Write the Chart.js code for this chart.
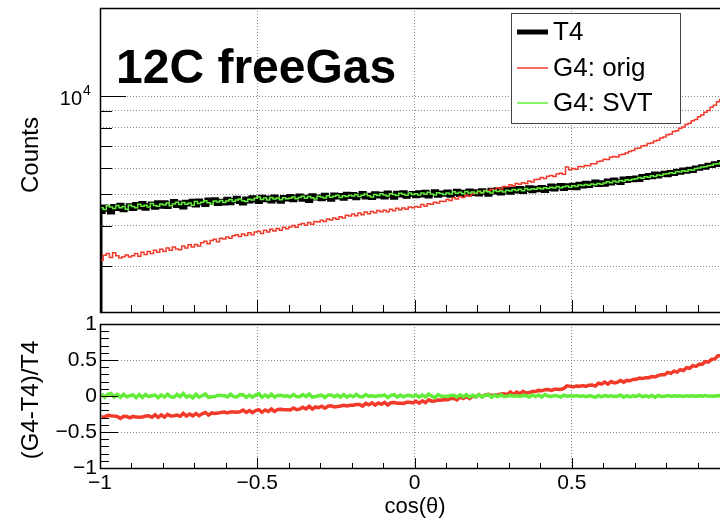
<!DOCTYPE html>
<html><head><meta charset="utf-8">
<script src="https://cdn.jsdelivr.net/npm/chart.js@4/dist/chart.umd.min.js"></script>
<style>
html,body{margin:0;padding:0;background:#fff;overflow:hidden;width:720px;height:519px;}
#top{position:absolute;left:0;top:0;}
#bot{position:absolute;left:0;top:312px;}
</style></head><body>
<canvas id="top" width="740" height="320"></canvas>
<canvas id="bot" width="740" height="207"></canvas>
<script>
// ---- data (200 bins of cos(theta), width 0.01, from -1 to 1) ----
const binLow = -1;
const binWidth = 0.01;
const seriesNames = ['T4', 'G4: orig', 'G4: SVT'];
const t4 = [
4420,4560,4490,4400,4580,4510,4620,4470,4540,4600,
4510,4640,4560,4680,4520,4600,4660,4550,4700,4590,
4700,4580,4650,4740,4610,4690,4560,4720,4660,4750,
4630,4760,4700,4640,4790,4710,4800,4680,4750,4690,
4820,4700,4780,4850,4740,4690,4830,4760,4870,4790,
4740,4890,4800,4860,4760,4900,4820,4750,4880,4830,
4910,4800,4870,4930,4820,4890,4780,4940,4860,4900,
4840,4960,4880,4820,4970,4900,4950,4850,4990,4910,
4980,4870,4950,5020,4900,4960,4880,5010,4930,4990,
4900,5040,4960,4890,5030,4970,5050,4920,4990,5020,
4940,5050,4970,5060,4930,5010,5080,4960,5040,4990,
5070,4960,5030,5100,4980,5060,5000,5110,5020,5080,
5000,5120,5060,4990,5140,5070,5150,5040,5110,5160,
5060,5180,5110,5200,5090,5170,5230,5120,5210,5150,
5240,5130,5200,5290,5180,5260,5310,5200,5300,5240,
5320,5230,5360,5290,5400,5310,5380,5440,5350,5420,
5360,5480,5410,5520,5460,5430,5560,5500,5580,5530,
5600,5540,5660,5620,5700,5650,5760,5680,5740,5790,
5730,5820,5780,5880,5830,5930,5870,5960,5910,6010,
6000,6060,6040,6130,6120,6190,6160,6250,6240,6310];
const g4orig = [
3130,3240,3280,3190,3300,3230,3180,3210,3250,3200,
3230,3280,3220,3310,3260,3330,3280,3360,3310,3380,
3330,3410,3360,3440,3390,3370,3460,3410,3490,3440,
3500,3460,3540,3580,3520,3600,3630,3570,3660,3640,
3690,3660,3720,3750,3700,3770,3730,3800,3750,3820,
3840,3780,3870,3820,3900,3850,3920,3870,3950,3910,
3960,4000,3950,4030,4060,4010,4090,4040,4120,4100,
4150,4120,4190,4160,4220,4180,4260,4220,4300,4280,
4340,4290,4370,4320,4400,4350,4420,4380,4450,4410,
4460,4410,4490,4440,4520,4470,4530,4490,4560,4540,
4580,4550,4640,4590,4670,4650,4720,4690,4750,4740,
4810,4780,4870,4830,4910,4880,4970,4920,5010,5020,
5090,5050,5130,5110,5170,5140,5230,5180,5270,5260,
5340,5300,5390,5360,5420,5390,5480,5440,5540,5550,
5620,5580,5670,5700,5660,5760,5790,5750,6050,5940,
5990,5960,6080,6060,6120,6110,6200,6190,6300,6320,
6400,6380,6490,6520,6500,6600,6630,6690,6760,6800,
6900,6920,7030,7050,7150,7180,7280,7310,7430,7490,
7600,7650,7780,7830,7960,8030,8180,8250,8400,8480,
8640,8740,8920,9030,9240,9380,9600,9760,10010,10180];
const g4svt = [
4540,4480,4600,4560,4510,4610,4540,4580,4490,4620,
4580,4540,4650,4590,4620,4560,4680,4610,4590,4660,
4630,4690,4600,4660,4720,4640,4710,4650,4690,4620,
4740,4680,4720,4770,4700,4660,4760,4730,4780,4710,
4760,4810,4740,4790,4830,4770,4740,4820,4790,4850,
4900,4810,4860,4790,4880,4830,4860,4800,4870,4840,
4850,4900,4840,4880,4920,4850,4910,4870,4830,4920,
4900,4860,4940,4890,4920,4960,4880,4940,4910,4960,
4930,4980,4910,4960,5000,4940,4900,4980,4950,5010,
4970,4930,5010,4980,4950,5030,4990,4960,5040,4980,
5010,4970,5040,4990,5060,5000,4970,5050,5020,4980,
5040,5000,5080,5030,5060,5010,5090,5040,5070,5030,
5100,5050,5120,5080,5040,5130,5090,5120,5070,5140,
5110,5160,5130,5170,5120,5200,5150,5190,5170,5220,
5180,5230,5200,5250,5220,5270,5230,5260,5290,5250,
5300,5270,5330,5310,5350,5320,5370,5340,5390,5360,
5410,5450,5420,5480,5440,5500,5470,5530,5510,5550,
5570,5620,5590,5650,5630,5690,5660,5720,5700,5760,
5770,5810,5790,5860,5840,5900,5880,5940,5920,5990,
6010,6050,6070,6110,6130,6180,6200,6250,6270,6330];
const xMajorTicks = [-1, -0.5, 0, 0.5, 1];
const ratioMajorTicks = [-1, -0.5, 0, 0.5, 1];
const logGridTicks = [3000, 4000, 5000, 6000, 7000, 8000, 9000, 10000];

// ---- helpers ----
const FONT = '"Liberation Sans", Arial, Helvetica, sans-serif';
const RED = '#f23a2a', GREEN = '#62ec38', BLACK = '#000';
const GRID = '#8c8c8c';
function histPoints(vals) {
  const pts = [{x: binLow, y: 1}];
  vals.forEach((v, i) => pts.push({x: binLow + i * binWidth, y: v}));
  pts.push({x: binLow + vals.length * binWidth, y: vals[vals.length - 1]});
  return pts;
}
function ratioPoints(vals) {
  return vals.map((v, i) => ({x: binLow + (i + 0.5) * binWidth, y: (v - t4[i]) / t4[i]}));
}
function fmt(v) { const s = String(Math.abs(v)); return v < 0 ? '\u2212' + s : s; }
const minorX = []; for (let k = -10; k <= 10; k++) minorX.push(k / 10);
function line(ctx, x1, y1, x2, y2) { ctx.beginPath(); ctx.moveTo(x1, y1); ctx.lineTo(x2, y2); ctx.stroke(); }

const topPlugin = {
  id: 'topDecor',
  afterDraw(chart) {
    const ctx = chart.ctx, a = chart.chartArea, xs = chart.scales.x, ys = chart.scales.y;
    ctx.save();
    ctx.strokeStyle = '#000'; ctx.lineWidth = 1;
    minorX.forEach(v => {
      const px = Math.round(xs.getPixelForValue(v)) + 0.5;
      const major = Math.abs(v * 2 - Math.round(v * 2)) < 1e-9;
      line(ctx, px, a.bottom, px, a.bottom - (major ? 12 : 7));
    });
    logGridTicks.forEach(v => {
      const py = Math.round(ys.getPixelForValue(v)) + 0.5;
      line(ctx, a.left, py, a.left + (v === 10000 ? 26 : 12), py);
    });
    ctx.lineWidth = 1.5;
    ctx.strokeRect(a.left + 0.5, a.top + 0.5, a.right - a.left, a.bottom - a.top);
    // y label 10^4
    ctx.fillStyle = '#000';
    const py4 = ys.getPixelForValue(10000);
    ctx.font = '20px ' + FONT; ctx.textAlign = 'right'; ctx.textBaseline = 'alphabetic';
    ctx.fillText('10', 82, py4 + 9);
    ctx.font = '14px ' + FONT; ctx.textAlign = 'left';
    ctx.fillText('4', 83, py4 - 1);
    // axis title
    ctx.save(); ctx.translate(31, 155); ctx.rotate(-Math.PI / 2);
    ctx.font = '24px ' + FONT; ctx.textAlign = 'center'; ctx.textBaseline = 'middle';
    ctx.fillText('Counts', 0, 0); ctx.restore();
    // big label
    ctx.font = 'bold 48px ' + FONT; ctx.textAlign = 'left'; ctx.textBaseline = 'alphabetic';
    ctx.fillText('12C freeGas', 116, 83);
    // legend
    ctx.fillStyle = '#fff'; ctx.fillRect(511, 13, 169, 110);
    ctx.strokeStyle = '#444'; ctx.lineWidth = 1; ctx.strokeRect(511.5, 13.5, 169, 110);
    const ds = chart.data.datasets;
    const ly = [32, 68, 103];
    ds.forEach((d, i) => {
      ctx.strokeStyle = d.borderColor; ctx.lineWidth = d.borderWidth;
      line(ctx, 517, ly[i], 548, ly[i]);
      ctx.fillStyle = '#000'; ctx.font = '26px ' + FONT; ctx.textAlign = 'left'; ctx.textBaseline = 'middle';
      ctx.fillText(d.label, 553, ly[i] + 1);
    });
    ctx.restore();
  }
};

const botPlugin = {
  id: 'botDecor',
  afterDraw(chart) {
    const ctx = chart.ctx, a = chart.chartArea, xs = chart.scales.x, ys = chart.scales.y;
    ctx.save();
    ctx.strokeStyle = '#000'; ctx.lineWidth = 1;
    minorX.forEach(v => {
      const px = Math.round(xs.getPixelForValue(v)) + 0.5;
      const major = Math.abs(v * 2 - Math.round(v * 2)) < 1e-9;
      line(ctx, px, a.bottom, px, a.bottom - (major ? 10 : 5));
      const py = Math.round(ys.getPixelForValue(v)) + 0.5;
      line(ctx, a.left, py, a.left + (major ? 18 : 9), py);
    });
    ctx.lineWidth = 1.5;
    ctx.strokeRect(a.left + 0.5, a.top + 0.5, a.right - a.left, a.bottom - a.top);
    ctx.fillStyle = '#000';
    ctx.save(); ctx.translate(31, 88); ctx.rotate(-Math.PI / 2);
    ctx.font = '24px ' + FONT; ctx.textAlign = 'center'; ctx.textBaseline = 'middle';
    ctx.fillText('(G4-T4)/T4', 0, 0); ctx.restore();
    ctx.font = '22px ' + FONT; ctx.textAlign = 'center'; ctx.textBaseline = 'middle';
    ctx.fillText('cos(\u03b8)', 415, 195);
    ctx.restore();
  }
};

const gridOpts = {color: GRID, lineWidth: 1, drawTicks: false};
const borderOpts = {display: false, dash: [1, 2]};

new Chart(document.getElementById('top'), {
  type: 'line',
  data: {datasets: [
    {label: seriesNames[0], data: histPoints(t4), borderColor: BLACK, borderWidth: 5, stepped: 'before', order: 3},
    {label: seriesNames[1], data: histPoints(g4orig), borderColor: RED, borderWidth: 1.5, stepped: 'before', order: 2},
    {label: seriesNames[2], data: histPoints(g4svt), borderColor: GREEN, borderWidth: 1.5, stepped: 'before', order: 1}
  ]},
  options: {
    responsive: false, animation: false, devicePixelRatio: 1,
    layout: {padding: {top: 8, right: 11, left: 0, bottom: 0}},
    elements: {point: {radius: 0}, line: {tension: 0, fill: false}},
    plugins: {legend: {display: false}, tooltip: {enabled: false}},
    scales: {
      x: {type: 'linear', min: -1, max: 1, bounds: 'data',
          afterBuildTicks(s) { s.ticks = xMajorTicks.map(v => ({value: v})); },
          ticks: {display: false}, grid: gridOpts, border: borderOpts,
          afterFit(s) { s.height = 8; s.paddingLeft = 0; s.paddingRight = 0; }},
      y: {type: 'logarithmic', min: 2170, max: 18650, bounds: 'data',
          afterBuildTicks(s) { s.ticks = logGridTicks.map(v => ({value: v})); },
          ticks: {display: false}, grid: gridOpts, border: borderOpts,
          afterFit(s) { s.width = 100; s.paddingTop = 0; s.paddingBottom = 0; }}
    }
  },
  plugins: [topPlugin]
});

new Chart(document.getElementById('bot'), {
  type: 'line',
  data: {datasets: [
    {label: seriesNames[1] + ' ratio', data: ratioPoints(g4orig), borderColor: RED, borderWidth: 3.5, order: 2},
    {label: seriesNames[2] + ' ratio', data: ratioPoints(g4svt), borderColor: GREEN, borderWidth: 3.5, order: 1}
  ]},
  options: {
    responsive: false, animation: false, devicePixelRatio: 1,
    layout: {padding: {top: 12, right: 11, left: 0, bottom: 0}},
    elements: {point: {radius: 0}, line: {tension: 0, fill: false}},
    plugins: {legend: {display: false}, tooltip: {enabled: false}},
    scales: {
      x: {type: 'linear', min: -1, max: 1, bounds: 'data',
          afterBuildTicks(s) { s.ticks = xMajorTicks.map(v => ({value: v})); },
          ticks: {color: '#000', font: {family: FONT, size: 21}, padding: 3, maxRotation: 0, autoSkip: false, callback: fmt},
          grid: gridOpts, border: borderOpts,
          afterFit(s) { s.height = 51; s.paddingLeft = 0; s.paddingRight = 0; }},
      y: {type: 'linear', min: -1, max: 1, bounds: 'data',
          afterBuildTicks(s) { s.ticks = ratioMajorTicks.map(v => ({value: v})); },
          ticks: {color: '#000', font: {family: FONT, size: 21}, padding: 3, callback: fmt},
          grid: gridOpts, border: borderOpts,
          afterFit(s) { s.width = 100; s.paddingTop = 0; s.paddingBottom = 0; }}
    }
  },
  plugins: [botPlugin]
});
</script>
</body></html>
